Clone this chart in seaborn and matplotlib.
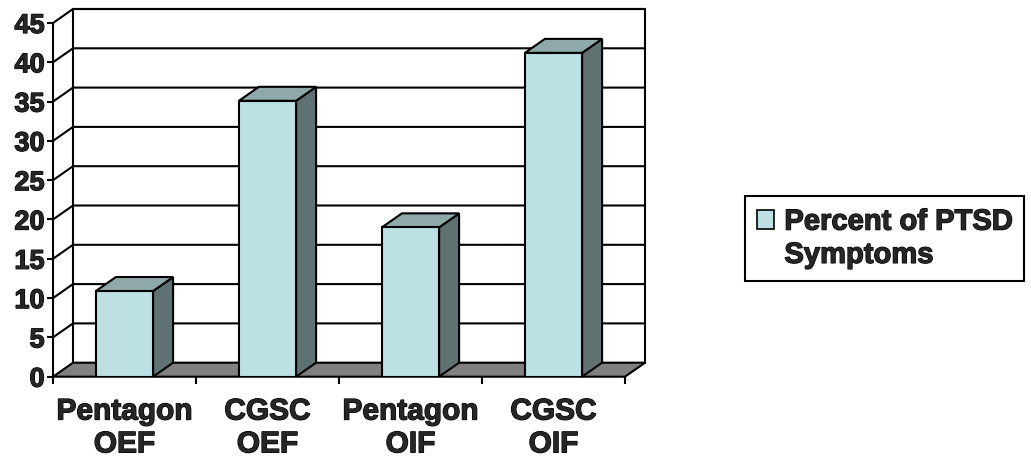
import matplotlib
matplotlib.use('Agg')
import matplotlib.pyplot as plt
import matplotlib.patheffects as pe
import seaborn as sns
import pandas as pd
from matplotlib.patches import Polygon, Patch
from matplotlib.lines import Line2D

# data
groups = ['Pentagon\nOEF', 'CGSC\nOEF', 'Pentagon\nOIF', 'CGSC\nOIF']
ptsd_pct = [10.9, 35.1, 19.0, 41.2]
y_ticks = [0, 5, 10, 15, 20, 25, 30, 35, 40, 45]
legend_lines = ['Percent of PTSD', 'Symptoms']

FRONT = '#bce0e4'
SIDE = '#5f7173'
TOP = '#8fa9ab'
FLOOR = '#808080'
LW = 1.5
DEPTH_PX = (20, 14)   # 3d offset of the back wall, in pixels
HEAVY = [pe.withStroke(linewidth=0.9, foreground='black')]

sns.set_style('white')
plt.rcParams['font.family'] = ['Liberation Sans', 'DejaVu Sans']
plt.rcParams['font.weight'] = 'bold'

df = pd.DataFrame({'Group': groups, 'Percent': ptsd_pct})

fig = plt.figure(figsize=(10.31, 4.65), dpi=100)
ax = fig.add_axes([53 / 1031, 88.3 / 465, 572 / 1031, 353.7 / 465])

sns.barplot(data=df, x='Group', y='Percent', color=FRONT, width=0.4,
            saturation=1, edgecolor='black', linewidth=LW, ax=ax, zorder=5)

xmin, xmax = -0.5, len(groups) - 0.5
ymax = y_ticks[-1]
ax.set_xlim(xmin, xmax)
ax.set_ylim(0, ymax)

# pixel depth -> data units
dx = DEPTH_PX[0] * (xmax - xmin) / 572
dy = DEPTH_PX[1] * ymax / 353.7

kw = dict(clip_on=False)
# back wall
ax.add_patch(Polygon([(xmin + dx, dy), (xmax + dx, dy), (xmax + dx, ymax + dy), (xmin + dx, ymax + dy)],
                     closed=True, facecolor='white', edgecolor='black', lw=LW, zorder=1, **kw))
# grid lines across the left wall and the back wall
for v in y_ticks[1:]:
    ax.add_line(Line2D([xmin, xmin + dx, xmax + dx], [v, v + dy, v + dy],
                       color='black', lw=LW, zorder=2, **kw))
# floor
ax.add_patch(Polygon([(xmin, 0), (xmax, 0), (xmax + dx, dy), (xmin + dx, dy)],
                     closed=True, facecolor=FLOOR, edgecolor='black', lw=LW, zorder=3, **kw))

# side and top faces of each bar
bars = [p for p in ax.patches if p.get_zorder() == 5]
for bar in bars:
    x0 = bar.get_x()
    x1 = x0 + bar.get_width()
    h = bar.get_height()
    ax.add_patch(Polygon([(x1, 0), (x1 + dx, dy), (x1 + dx, h + dy), (x1, h)], closed=True,
                         facecolor=SIDE, edgecolor='black', lw=LW, zorder=4, **kw))
    ax.add_patch(Polygon([(x0, h), (x1, h), (x1 + dx, h + dy), (x0 + dx, h + dy)], closed=True,
                         facecolor=TOP, edgecolor='black', lw=LW, zorder=4, **kw))

ax.patch.set_visible(False)
for s in ['top', 'right', 'bottom']:
    ax.spines[s].set_visible(False)
ax.spines['left'].set_linewidth(LW)
ax.spines['left'].set_color('black')
ax.spines['left'].set_zorder(6)

ax.set_yticks(y_ticks)
ax.tick_params(axis='y', left=True, length=4, width=LW, color='black', pad=2, labelsize=19.5)
ax.set_xticks([xmin + 0.5 + i for i in range(len(groups))])
ax.set_xticklabels(groups, fontsize=21.5, fontweight='bold', linespacing=1.22)
ax.set_xticks([xmin + i for i in range(len(groups) + 1)], minor=True)
ax.tick_params(axis='x', which='major', length=0, pad=15)
ax.tick_params(axis='x', which='minor', bottom=True, length=5, width=LW, color='black')
for lab in ax.get_yticklabels() + ax.get_xticklabels():
    lab.set_fontweight('bold')
    lab.set_path_effects(HEAVY)
ax.set_xlabel('')
ax.set_ylabel('')

# legend: the marker sits on the first line only
handles = [Patch(facecolor=FRONT, edgecolor='black', lw=1.2),
           Patch(facecolor='none', edgecolor='none')]
leg = fig.legend(handles, legend_lines, loc='upper left',
                 bbox_to_anchor=(745 / 1031, 1 - 196 / 465), bbox_transform=fig.transFigure,
                 frameon=True, fancybox=False, framealpha=1, edgecolor='black',
                 borderaxespad=0, prop={'size': 21, 'weight': 'bold'},
                 handlelength=0.6, handleheight=0.6, handletextpad=0.35,
                 borderpad=0.4, labelspacing=0.18)
leg.get_frame().set_linewidth(LW)
for t in leg.get_texts():
    t.set_path_effects(HEAVY)

fig.savefig('out.png', dpi=100)
